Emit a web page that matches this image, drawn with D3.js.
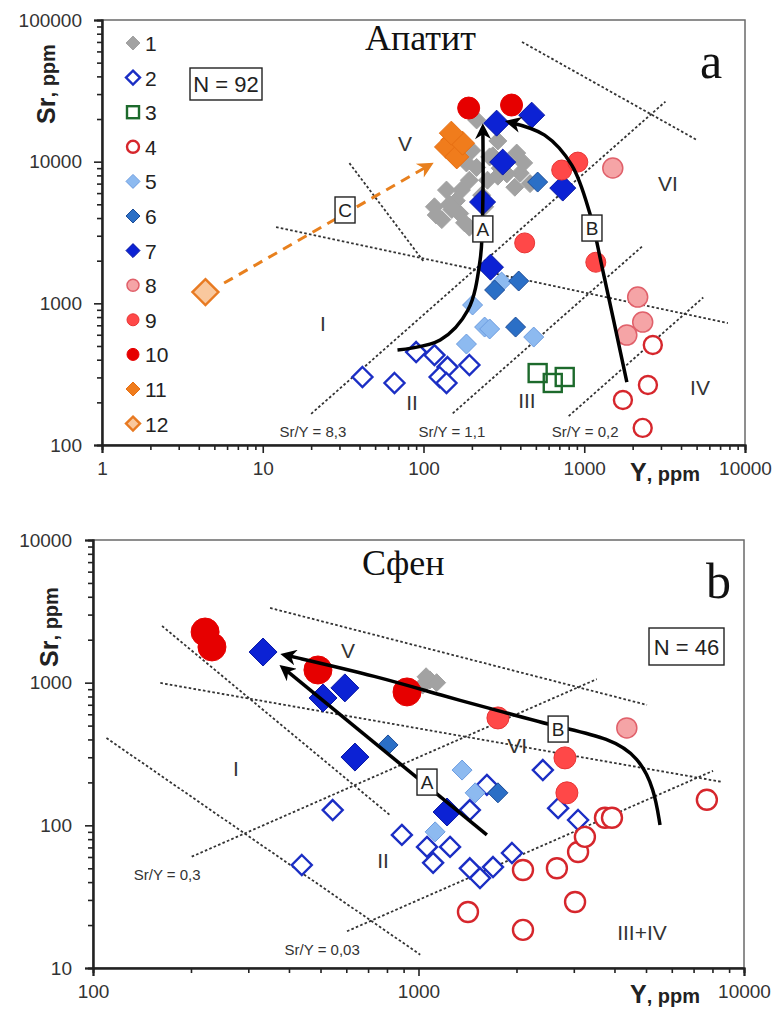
<!DOCTYPE html>
<html>
<head>
<meta charset="utf-8">
<script src="https://cdn.jsdelivr.net/npm/d3@7"></script>
<style>
  body { margin: 0; background: #fff; }
  text { font-family: Arial, "Liberation Sans", sans-serif; }
  text.serif { font-family: "Liberation Serif", "DejaVu Serif", serif; }
</style>
</head>
<body>
<svg id="chart" width="779" height="1012"></svg>
<script>
// ---- panel a, apatite: [Y ppm, Sr ppm] per group
const apatite1 = [[117,4800],[139,6300],[130,3900],[168,4300],[172,6300],[193,7400],[214,9100],[258,10800],
  [290,14000],[250,7400],[290,7900],[214,19700],[380,11500],[400,8300],[370,6600],[193,3450],[160,5300],
  [230,5800],[300,9000],[420,9800],[460,7000],[150,4600],[200,12000],[270,11000],[120,4200],[145,5000],
  [180,3700],[240,4800],[330,8200],[185,9800]];
const apatite2 = [[41.7,302],[66,274],[90,453],[117,431],[141,355],[126,302],[139,274],[193,367]];
const apatite3 = [[513,322],[637,274],[756,302]];
const apatite4 = [[2670,508],[2490,265],[1740,208],[2310,132]];
const apatite5 = [[202,973],[240,680],[258,659],[185,516],[306,1413],[485,578]];
const apatite6 = [[277,1242],[391,1437],[374,680],[513,7180]];
const apatite7 = [[261,1800],[233,5190],[311,9930],[285,18700],[471,21300],[735,6510]];
const apatite8 = [[1505,9020],[2150,1107],[2310,738],[1840,597]];
const apatite9 = [[724,8730],[912,9930],[426,2670],[1180,1950]];
const apatite10 = [[191,23900],[353,25100]];
const apatite11 = [[152,14200],[139,12700],[161,10800],[175,13500],[149,15900]];
const apatite12 = [[4.4,1200]];

// ---- panel b, sphene
const sphene1 = [[1084,1045],[1030,962],[1137,1000],[1055,1100]];
const sphene2 = [[545,128],[438,52.7],[2410,244],[1622,192],[1438,128],[2685,132],[3092,109],[889,85.7],
  [1062,70.6],[1250,70.6],[1109,54.6],[1438,50],[1545,42.7],[1694,51],[1937,64]];
const sphene4 = [[2094,48.6],[2662,50],[3092,65],[3245,83],[3740,113],[3930,113],[7690,151],[1419,24.7],
  [2094,18.5],[3027,29]];
const sphene5 = [[1361,244],[1493,169],[1125,90]];
const sphene6 = [[806,366],[1754,169]];
const sphene7 = [[333,1640],[594,919],[509,781],[638,301],[1224,124]];
const sphene8 = [[4365,482]];
const sphene9 = [[2818,297],[2857,169],[1754,566]];
const sphene10 = [[221,2265],[232,1780],[491,1227],[922,861]];

// boundary lines (dotted), trend arrows, labels
const apatiteRatios = [{k: 8.3, from: 20, to: 3200, label: 'Sr/Y = 8,3', at: [20.5,123]},
                       {k: 1.1, from: 152, to: 2300, label: 'Sr/Y = 1,1', at: [150,123]},
                       {k: 0.2, from: 800, to: 5500, label: 'Sr/Y = 0,2', at: [1012,123]}];
const apatiteBounds = [[[34.6,9770],[101,1950]], [[12.1,3450],[7830,726]], [[410,70000],[5030,14200]]];
const apatiteArrowA = [[68.9,468],[127,551],[189,897],[225,2020],[234,5360],[234,17300]];
const apatiteArrowB = [[1841,278],[1303,1718],[1082,4336],[836,9460],[567,15400],[343,19000]];
const apatiteArrowC = [[5.75,1390],[109,9460]];
const apatiteBoxes = [['A',234,3350],['B',1117,3400],['C',32.5,4560]];
const apatiteZones = [['V',76.7,13550],['VI',3320,7060],['I',23.7,726],['II',84.8,200],['III',440,208],['IV',5250,256]];

const spheneRatios = [{k: 0.3, from: 201, to: 3530, label: 'Sr/Y = 0,3', at: [169,44.9]},
                      {k: 0.03, from: 603, to: 8035, label: 'Sr/Y = 0,03', at: [506,13.4]}];
const spheneBounds = [[[110,409],[1012,12.4]], [[163,2495],[817,118]], [[161,995],[8610,201]], [[350,3338],[5035,698]]];
const spheneArrowA = [[1622,85.7],[384,1268]];
const spheneArrowB = [[5520,100.5],[5300,180],[4750,300],[3873,409],[2685,489],[1871,612],[1164,819],[762,1096],[389,1563]];
const spheneBoxes = [['A',1062,201],['B',2685,473]];
const spheneZones = [['V',607,1694],['VI',2010,366],['I',275,252],['II',778,57],['III+IV',4860,17.9]];

const legendLabels = ['1','2','3','4','5','6','7','8','9','10','11','12'];

// marker look for each group
const styles = {
  1: {shape: 'diamond', fill: '#a2a2a2', stroke: '#a2a2a2', sw: 1},
  2: {shape: 'diamond', fill: '#fff', stroke: '#1b2ec4', sw: 2.4},
  3: {shape: 'square', fill: 'none', stroke: '#1d6a2c', sw: 2.4},
  4: {shape: 'circle', fill: '#fff', stroke: '#d6262c', sw: 2.4},
  5: {shape: 'diamond', fill: '#8dbaf0', stroke: '#6c9ce0', sw: 1},
  6: {shape: 'diamond', fill: '#2b6fc6', stroke: '#1c4c98', sw: 1},
  7: {shape: 'diamond', fill: '#0c22d4', stroke: '#0818a4', sw: 1},
  8: {shape: 'circle', fill: '#f5a4a6', stroke: '#e0606a', sw: 1.5},
  9: {shape: 'circle', fill: '#ff4848', stroke: '#e83434', sw: 1},
  10: {shape: 'circle', fill: '#e60000', stroke: '#e60000', sw: 1},
  11: {shape: 'diamond', fill: '#f07c1c', stroke: '#e66e12', sw: 1},
  12: {shape: 'diamond', fill: '#f9c89e', stroke: '#e87a22', sw: 2.4}
};

const svg = d3.select('#chart');
const defs = svg.append('defs');
function arrowHead(id, color) {
  defs.append('marker')
    .attr('id', id)
    .attr('viewBox', '0 0 10 10')
    .attr('refX', 7).attr('refY', 5)
    .attr('markerWidth', 18).attr('markerHeight', 16)
    .attr('markerUnits', 'userSpaceOnUse')
    .attr('orient', 'auto')
    .append('path')
    .attr('d', 'M0,0L10,5L0,10L3,5Z')
    .attr('fill', color);
}
arrowHead('ahBlack', '#000');
arrowHead('ahOrange', '#e8801e');

function addMarker(g, st, s) {
  let m;
  if (st.shape === 'circle') {
    m = g.append('circle').attr('r', s);
  } else if (st.shape === 'square') {
    m = g.append('rect').attr('x', -s).attr('y', -s).attr('width', 2 * s).attr('height', 2 * s);
  } else {
    m = g.append('path').attr('d', 'M0,' + (-s) + 'L' + s + ',0L0,' + s + 'L' + (-s) + ',0Z');
  }
  m.attr('fill', st.fill).attr('stroke', st.stroke).attr('stroke-width', st.sw);
  return m;
}

function drawPanel(p) {
  const x = d3.scaleLog().domain(p.xDomain).range([p.left, p.right]);
  const y = d3.scaleLog().domain(p.yDomain).range([p.bottom, p.top]);
  const g = svg.append('g');

  g.append('rect')
    .attr('x', p.left).attr('y', p.top)
    .attr('width', p.right - p.left).attr('height', p.bottom - p.top)
    .attr('fill', '#fff').attr('stroke', '#6a6a6a').attr('stroke-width', 1.5);

  // log ticks: majors at powers of ten, minors 2..9
  function ticksFor(dom) {
    const majors = [], minors = [];
    for (let e = Math.round(Math.log10(dom[0])); e <= Math.round(Math.log10(dom[1])); e++) {
      majors.push(Math.pow(10, e));
      if (Math.pow(10, e) < dom[1]) for (let k = 2; k <= 9; k++) minors.push(k * Math.pow(10, e));
    }
    return {majors, minors};
  }
  const tx = ticksFor(p.xDomain), ty = ticksFor(p.yDomain);

  const yAxis = g.append('g').attr('transform', 'translate(' + p.left + ',0)');
  yAxis.call(d3.axisLeft(y).tickValues(ty.minors).tickSize(5).tickFormat(''));
  yAxis.append('g').call(d3.axisLeft(y).tickValues(ty.majors).tickSize(8).tickPadding(p.yPad).tickFormat(d3.format('d')));
  const xAxis = g.append('g').attr('transform', 'translate(0,' + p.bottom + ')');
  xAxis.call(d3.axisBottom(x).tickValues(tx.minors).tickSize(5).tickFormat(''));
  xAxis.append('g').call(d3.axisBottom(x).tickValues(tx.majors).tickSize(8).tickPadding(9).tickFormat(d3.format('d')));
  g.selectAll('.domain').attr('stroke', '#222').attr('stroke-width', 2);
  g.selectAll('.tick line').attr('stroke', '#222').attr('stroke-width', 1.6);
  g.selectAll('.tick text').attr('font-size', 19).attr('fill', '#333');

  // axis titles
  const yt = g.append('text')
    .attr('transform', 'translate(' + p.yTitle[0] + ',' + p.yTitle[1] + ') rotate(-90)')
    .attr('text-anchor', 'middle').attr('font-weight', 'bold').attr('fill', '#222');
  yt.append('tspan').attr('font-size', 25).text('Sr');
  yt.append('tspan').attr('font-size', 20).text(', ppm');
  const xt = g.append('text')
    .attr('x', p.xTitle[0]).attr('y', p.xTitle[1])
    .attr('text-anchor', 'middle').attr('font-weight', 'bold').attr('fill', '#222');
  xt.append('tspan').attr('font-size', 25).text('Y');
  xt.append('tspan').attr('font-size', 20).text(', ppm');

  // dotted boundaries
  const line = d3.line().x(d => x(d[0])).y(d => y(d[1]));
  const dotted = g.append('g').attr('fill', 'none').attr('stroke', '#333')
    .attr('stroke-width', 1.8).attr('stroke-dasharray', '2.6,2.2');
  p.ratios.forEach(r => dotted.append('path').attr('d', line([[r.from, r.k * r.from], [r.to, r.k * r.to]])));
  p.bounds.forEach(b => dotted.append('path').attr('d', line(b)));
  p.ratios.forEach(r => {
    g.append('text').attr('x', x(r.at[0])).attr('y', y(r.at[1]) + 5)
      .attr('text-anchor', 'middle').attr('font-size', 15).attr('fill', '#333').text(r.label);
  });

  // points
  p.series.forEach(s => {
    const st = styles[s.id];
    s.data.forEach(d => {
      const m = g.append('g').attr('transform', 'translate(' + x(d[0]) + ',' + y(d[1]) + ')');
      addMarker(m, st, p.sizes[s.id]);
    });
  });

  // trend arrows
  p.arrows.forEach(a => {
    const curve = d3.line().x(d => x(d[0])).y(d => y(d[1]))
      .curve(a.smooth ? d3.curveBasis : d3.curveCatmullRom.alpha(0.5));
    g.append('path').attr('d', curve(a.pts)).attr('fill', 'none')
      .attr('stroke', a.color).attr('stroke-width', a.width)
      .attr('stroke-dasharray', a.dash || null)
      .attr('marker-end', 'url(#' + a.head + ')');
  });

  p.boxes.forEach(b => {
    const bx = x(b[1]), by = y(b[2]);
    g.append('rect').attr('x', bx - 10).attr('y', by - 13).attr('width', 20).attr('height', 26)
      .attr('fill', '#fff').attr('stroke', '#222').attr('stroke-width', 1.4);
    g.append('text').attr('x', bx).attr('y', by + 7).attr('text-anchor', 'middle')
      .attr('font-size', 19).attr('fill', '#222').text(b[0]);
  });

  p.zones.forEach(z => {
    g.append('text').attr('x', x(z[1])).attr('y', y(z[2]) + 8).attr('text-anchor', 'middle')
      .attr('font-size', 21).attr('fill', '#333').text(z[0]);
  });

  // N box, mineral name, panel letter
  const nb = p.nBox;
  g.append('rect').attr('x', nb.x).attr('y', nb.y).attr('width', nb.w).attr('height', nb.h)
    .attr('fill', '#fff').attr('stroke', '#222').attr('stroke-width', 1.4);
  g.append('text').attr('x', nb.x + nb.w / 2).attr('y', nb.y + nb.h / 2 + 8).attr('text-anchor', 'middle')
    .attr('font-size', 22).attr('fill', '#222').text(nb.text);
  g.append('text').attr('class', 'serif').attr('x', p.name[0]).attr('y', p.name[1])
    .attr('font-size', 36).attr('fill', '#111')
    .text(p.name[2]);
  g.append('text').attr('class', 'serif').attr('x', p.letter[0]).attr('y', p.letter[1])
    .attr('font-size', 50).attr('fill', '#111')
    .text(p.letter[2]);

  return g;
}

const pa = drawPanel({
  xDomain: [1, 10000], yDomain: [100, 100000],
  left: 102, right: 745, top: 20, bottom: 445, yPad: 12,
  yTitle: [55, 84], xTitle: [665, 481],
  ratios: apatiteRatios, bounds: apatiteBounds,
  series: [1,2,3,4,5,6,7,8,9,10,11,12].map(i => ({id: i, data: eval('apatite' + i)})),
  sizes: {1: 9, 2: 10, 3: 9, 4: 9, 5: 10, 6: 10, 7: 13, 8: 10, 9: 10, 10: 11, 11: 12, 12: 13},
  arrows: [
    {pts: apatiteArrowC, color: '#e8801e', width: 3, dash: '10,7', head: 'ahOrange'},
    {pts: apatiteArrowA, color: '#000', width: 3.5, head: 'ahBlack'},
    {pts: apatiteArrowB, color: '#000', width: 3.5, head: 'ahBlack'}
  ],
  boxes: apatiteBoxes, zones: apatiteZones,
  nBox: {x: 190, y: 68, w: 72, h: 32, text: 'N = 92'},
  name: [365, 50, 'Апатит'], letter: [700, 78, 'a']
});

// legend of panel a
const legend = pa.append('g');
legendLabels.forEach((lab, i) => {
  const ly = 43 + i * 34.6;
  const m = legend.append('g').attr('transform', 'translate(133,' + ly + ')');
  addMarker(m, styles[i + 1], styles[i + 1].shape === 'diamond' ? 7 : 6);
  legend.append('text').attr('x', 145).attr('y', ly + 8).attr('font-size', 21).attr('fill', '#222').text(lab);
});

drawPanel({
  xDomain: [100, 10000], yDomain: [10, 10000],
  left: 93, right: 744, top: 540, bottom: 968, yPad: 13,
  yTitle: [58, 627], xTitle: [665, 1003],
  ratios: spheneRatios, bounds: spheneBounds,
  series: [1,2,4,5,6,7,8,9,10].map(i => ({id: i, data: eval('sphene' + i)})),
  sizes: {1: 9, 2: 10, 4: 10, 5: 10, 6: 10, 7: 14, 8: 10, 9: 11, 10: 14},
  arrows: [
    {pts: spheneArrowA, color: '#000', width: 3.5, head: 'ahBlack'},
    {pts: spheneArrowB, color: '#000', width: 3.5, head: 'ahBlack', smooth: true}
  ],
  boxes: spheneBoxes, zones: spheneZones,
  nBox: {x: 649, y: 628, w: 75, h: 37, text: 'N = 46'},
  name: [362, 575, 'Сфен'], letter: [706, 598, 'b']
});
</script>
</body>
</html>
